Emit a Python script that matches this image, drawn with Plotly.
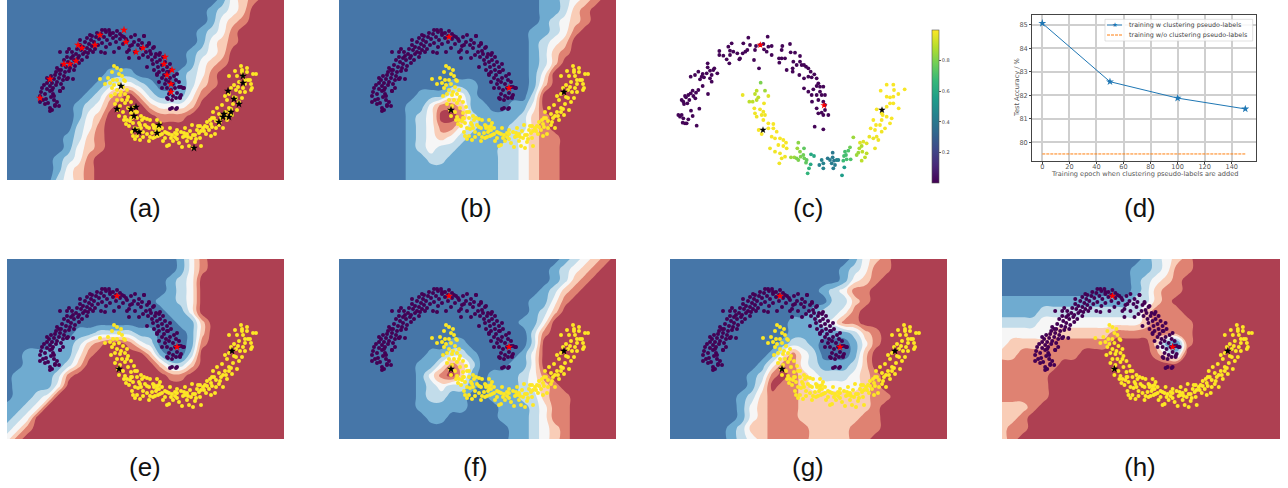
import plotly.graph_objects as go

W, H = 1288, 488
PW, PH = 277, 180

band_colors = ["#4676a8", "#6fabd0", "#c2dcea", "#f6f6f6", "#f9cdb7", "#df8272", "#ae4052"]

bands_a = [
 "0000 0000 0000 0000 0000 0134 5666",
 "0000 0000 0000 0000 0000 1234 6666",
 "0000 0000 0000 0000 0000 1345 6666",
 "0000 0000 0000 0000 0001 2356 6666",
 "0000 0000 0000 0000 0001 3456 6666",
 "0000 0000 0000 0000 0012 3466 6666",
 "0000 0000 0000 0000 0013 4566 6666",
 "0000 0000 0011 1000 0123 5666 6666",
 "0000 0000 0123 3210 0124 5666 6666",
 "0000 0000 1245 6421 1135 6666 6666",
 "0000 0001 2356 6643 3346 6666 6666",
 "0000 0001 3466 6665 5566 6666 6666",
 "0000 0002 3566 6666 6666 6666 6666",
 "0000 0012 4566 6666 6666 6666 6666",
 "0000 0013 4566 6666 6666 6666 6666",
 "0000 0123 5666 6666 6666 6666 6666",
 "0000 0134 5666 6666 6666 6666 6666",
 "0000 0234 5666 6666 6666 6666 6666",
]
bands_b = [
 "0000 0000 0000 0000 0000 1123 4566",
 "0000 0000 0000 0000 0000 1124 5666",
 "0000 0000 0000 0000 0000 1234 5666",
 "0000 0000 0000 0000 0001 1235 6666",
 "0000 0000 0000 0000 0001 2346 6666",
 "0000 0000 0000 0000 0001 2456 6666",
 "0000 0000 0000 0000 0001 2466 6666",
 "0000 0000 0000 0000 0001 3666 6666",
 "0000 0000 0001 1100 0001 4666 6666",
 "0000 0000 1113 3100 0002 6666 6666",
 "0000 0001 1355 4110 0113 6666 6666",
 "0000 0001 2366 5211 1124 5666 6666",
 "0000 0001 2355 3211 1224 5666 6666",
 "0000 0001 2343 2111 1234 5566 6666",
 "0000 0001 2322 1111 2234 5566 6666",
 "0000 0001 1221 1111 2234 5566 6666",
 "0000 0001 1111 1111 2234 5566 6666",
 "0000 0001 1111 1111 2234 5566 6666",
]
bands_e = [
 "0000 0000 0000 0000 0135 6666 6666",
 "0000 0000 0000 0000 0135 6666 6666",
 "0000 0000 0000 0000 1236 6666 6666",
 "0000 0000 0000 0000 1236 6666 6666",
 "0000 0000 0000 0001 1236 6666 6666",
 "0000 0000 0000 0000 1136 6666 6666",
 "0000 0000 0000 0000 0114 6666 6666",
 "0000 0001 1222 2110 0014 6666 6666",
 "0000 0112 4566 5320 0015 6666 6666",
 "0011 1113 5666 6641 0026 6666 6666",
 "0011 1124 6666 6664 2246 6666 6666",
 "0111 1256 6666 6666 5566 6666 6666",
 "0111 1366 6666 6666 6666 6666 6666",
 "0112 3666 6666 6666 6666 6666 6666",
 "1123 6666 6666 6666 6666 6666 6666",
 "1236 6666 6666 6666 6666 6666 6666",
 "2356 6666 6666 6666 6666 6666 6666",
 "3566 6666 6666 6666 6666 6666 6666",
]
bands_f = [
 "0000 0000 0000 0000 0000 0012 3456",
 "0000 0000 0000 0000 0000 0123 4566",
 "0000 0000 0000 0000 0000 0124 5666",
 "0000 0000 0000 0000 0000 1245 6666",
 "0000 0000 0000 0000 0001 1356 6666",
 "0000 0000 0000 0000 0001 2466 6666",
 "0000 0000 0000 0000 0011 3666 6666",
 "0000 0000 0000 0000 0002 5666 6666",
 "0000 0000 0001 1000 0002 6666 6666",
 "0000 0000 0112 2100 0013 6666 6666",
 "0000 0000 1135 4200 0113 6666 6666",
 "0000 0000 1356 4101 1123 5666 6666",
 "0000 0000 1232 2101 1123 4566 6666",
 "0000 0000 1221 1001 1122 4556 6666",
 "0000 0000 1111 1000 1112 3556 6666",
 "0000 0000 0110 0000 1112 3556 6666",
 "0000 0000 0000 0000 0112 3456 6666",
 "0000 0000 0000 0000 0112 3456 6666",
]
bands_g = [
 "0000 0000 0000 0000 0013 4566 6666",
 "0000 0000 0000 0000 0123 5566 6666",
 "0000 0000 0000 0000 0134 5666 6666",
 "0000 0000 0000 0001 2355 6666 6666",
 "0000 0000 0000 0000 2245 6666 6666",
 "0000 0000 0000 0012 2356 6666 6666",
 "0000 0000 0000 1112 3556 6666 6666",
 "0000 0000 0000 1111 1124 5666 6666",
 "0000 0000 0001 2210 0013 5666 6666",
 "0000 0000 0013 5320 0014 6666 6666",
 "0000 0000 0135 5321 1124 6666 6666",
 "0000 0000 1256 5432 2234 5666 6666",
 "0000 0000 1365 5433 3334 5666 6666",
 "0000 0001 2455 5444 4444 5566 6666",
 "0000 0001 3455 5444 4444 5666 6666",
 "0000 0001 3455 5444 4445 5666 6666",
 "0000 0012 4455 5544 4455 5666 6666",
 "0000 0012 3455 5544 4455 6666 6666",
]
bands_h = [
 "0000 0000 0000 0012 3456 6666 6666",
 "0000 0000 0000 0112 3556 6666 6666",
 "0000 0000 0000 0123 4566 6666 6666",
 "0000 0000 0000 0124 5566 6666 6666",
 "1111 1111 1111 1224 5666 6666 6666",
 "1111 2222 2222 2245 5566 6666 6666",
 "2222 3333 3333 3345 5556 6666 6666",
 "3333 3444 4445 5555 5556 6666 6666",
 "3444 4555 5556 6664 1056 6666 6666",
 "4455 5555 6666 6665 3266 6666 6666",
 "5555 5566 6666 6666 6666 6666 6666",
 "5555 5666 6666 6666 6666 6666 6666",
 "5555 5666 6666 6666 6666 6666 6666",
 "5555 5666 6666 6666 6666 6666 6666",
 "4445 6666 6666 6666 6666 6666 6666",
 "4456 6666 6666 6666 6666 6666 6666",
 "4556 6666 6666 6666 6666 6666 6666",
 "4566 6666 6666 6666 6666 6666 6666",
]

purple_points = [
 (33,96),(36,100),(34,92),(39,99),(41,103),(43,108),(48,106),(44,97),(38,94),(35,88),(37,85),(40,89),(43,91),(46,94),
 (50,102),(52,106),(40,83),(43,86),(46,88),(42,80),(45,83),(49,85),(53,91),(47,79),(50,82),(54,84),(44,76),(48,75),
 (52,78),(56,80),(49,72),(53,74),(57,76),(60,79),(50,68),(54,70),(58,72),(62,71),(66,79),(55,65),(59,67),(63,68),
 (67,70),(57,60),(61,62),(64,64),(68,66),(72,63),(60,57),(64,58),(67,60),(71,58),(75,60),(65,52),(69,54),(72,56),
 (76,54),(60,52),(70,49),(74,50),(78,52),(80,57),(73,45),(76,47),(80,48),(83,50),(78,42),(82,44),(85,46),(88,49),
 (80,38),(84,40),(87,42),(91,45),(94,52),(85,36),(89,37),(92,39),(95,43),(99,47),(90,33),(94,34),(97,37),(100,40),
 (103,44),(95,30),(99,32),(103,35),(106,38),(109,42),(102,30),(106,33),(109,36),(113,39),(116,44),(110,31),(113,34),
 (117,37),(120,41),(123,46),(115,36),(119,39),(124,37),(122,50),(127,42),(131,45),(128,52),(134,48),(137,36),(132,40),
 (135,43),(140,46),(143,51),(125,45),(139,52),(142,44),(146,48),(149,54),(136,55),(141,57),(145,60),(148,57),(152,55),
 (146,64),(150,62),(153,60),(156,57),(151,67),(155,65),(158,62),(147,70),(152,72),(156,70),(160,67),(163,64),(157,75),
 (161,72),(164,70),(150,74),(155,78),(159,80),(163,78),(167,76),(170,74),(158,84),(162,82),(166,84),(169,80),(172,82),
 (160,88),(164,90),(168,88),(172,87),(176,88),(162,94),(166,96),(170,93),(174,95),(165,100),(169,98),(173,98),(161,99),
 (165,108),(170,108),(160,72),(144,54),(47,96),(61,78),(33,102),(45,110),
 (43,111),(48,105),(45,90),(53,91),(60,79),(53,52),(62,49),(81,53),(98,53),(107,52),(120,52),(137,36),(128,35),(103,33),
 (98,30),(83,35),(73,40),(140,67),(150,75),(160,98),(169,109),(163,109),(177,88),(173,97),(174,87),(153,53),(142,43),
 (147,47),(132,58),(122,58),(40,78),(38,104),(56,88),(52,70),(66,56),(86,52),(112,48),(152,82),(155,88),(47,100),
]
yellow_points = [
 (110,68),(93,79),(112,74),(105,72),(101,78),(110,80),(115,76),(118,81),(103,83),(107,85),(112,84),(98,84),(105,88),
 (110,90),(116,87),(120,90),(108,94),(113,95),(118,94),(104,96),(110,100),(115,100),(121,97),(108,104),(113,106),
 (118,103),(124,102),(111,110),(116,112),(121,108),(127,107),(112,116),(118,117),(124,113),(130,112),(119,124),
 (125,118),(130,118),(134,116),(122,126),(126,123),(132,123),(137,118),(120,120),(128,128),(134,128),(125,132),
 (130,136),(136,132),(128,139),(133,140),(140,134),(143,120),(150,120),(147,128),(153,123),(145,133),(150,130),
 (155,128),(148,137),(153,135),(158,132),(158,138),(163,128),(165,135),(162,145),(160,146),(168,133),(170,139),
 (174,132),(172,143),(176,137),(180,134),(180,141),(184,138),(186,148),(182,146),(190,130),(188,135),(192,133),
 (196,128),(193,138),(198,126),(202,130),(194,146),(200,122),(205,127),(208,134),(207,118),(212,125),(216,128),
 (212,114),(218,112),(220,120),(215,105),(222,108),(225,115),(213,122),(220,100),(226,104),(230,110),(222,94),
 (227,97),(232,102),(235,98),(224,88),(229,90),(233,92),(236,88),(244,90),(227,85),(232,82),(238,84),(245,88),
 (222,76),(230,76),(236,76),(241,80),(235,72),(240,72),(246,74),(234,66),(240,68),(249,74),(235,70),(243,80),
 (128,112),(123,121),(131,129),(138,125),(142,128),(146,138),(152,130),(160,133),(166,141),(170,130),(178,128),
 (183,131),(188,142),(191,126),(199,134),(203,120),(206,112),(210,108),(216,116),(209,128),(117,120),(136,137),
 (142,141),(150,127),(156,141),(164,138),(175,147),(185,125),(204,136),(218,96),(238,92),(106,80),(114,92),(120,100),
 (114,70),(107,66),(117,80),(124,118),(126,136),(133,125),(135,120),(140,119),(146,125),(152,126),(149,132),(155,134),
 (151,136),(162,134),(168,137),(178,136),(181,137),(186,135),(189,139),(194,131),(197,131),(200,127),(204,124),
 (209,121),(214,118),(219,116),(222,112),(224,109),(229,98),(231,87),(238,80),(244,84),(228,71),(140,127),(143,137),
 (147,126),(170,134),(177,133),(193,126),(205,118),
]
red_stars_a_x = [33,43,57,63,69,71,75,88,93,117,119,129,136,158,157,165,160,164,164]
red_stars_a_y = [98,79,64,64,61,45,48,45,35,30,42,52,48,57,64,70,75,84,92]
black_stars_a_x = [114,110,124,129,127,128,132,152,150,187,212,216,217,222,224,221,227,232,236,236]
black_stars_a_y = [86,109,109,107,116,130,132,125,133,148,122,117,114,117,112,91,99,104,83,76]
red_stars_x = [110,170]
red_stars_y = [37,88]
black_stars_x = [112,225]
black_stars_y = [110,92]

c_purple_points = [
 (55,285),(60,290),(65,285),(70,295),(75,310),(68,308),(80,310),(85,298),(98,288),(110,317),(93,272),(118,266),(72,252),
 (65,240),(70,245),(78,232),(85,225),(75,228),(92,220),(100,228),(98,212),(108,218),(115,210),(128,198),(144,222),
 (106,235),(82,250),(88,240),(105,165),(92,170),(115,155),(125,170),(120,178),(132,172),(128,162),(140,160),(143,130),
 (143,142),(150,152),(155,165),(155,185),(150,175),(160,150),(163,145),(172,160),(178,93),(178,105),(190,107),(200,118),
 (208,130),(210,105),(215,70),(205,80),(210,92),(220,95),(232,100),(238,118),(248,100),(240,115),(250,70),(265,53),
 (270,75),(262,90),(256,95),(282,120),(285,90),(297,145),(288,78),(300,75),(310,72),(323,50),(312,88),(320,95),(335,78),
 (335,105),(325,80),(367,78),(365,90),(390,72),(392,97),(405,98),(420,108),(357,115),(365,115),(358,128),(375,115),
 (400,125),(420,125),(380,150),(398,145),(410,135),(398,155),(425,135),(432,135),(438,140),(418,165),(432,175),(445,170),
 (452,155),(455,172),(445,145),(470,175),(475,190),(463,163),(470,198),(480,200),(432,205),(445,215),(460,208),(480,215),
 (490,200),(455,225),(456,245),(470,225),(485,225),(495,225),(475,240),(490,245),(470,265),(475,280),(485,278),(495,270),
 (505,285),(490,285),(495,255),(464,320),(490,328),
]
c_purple_value = 0.01
c_mixed_points = [
 (248,225,.97),(302,188,.8),(290,212,.9),(285,222,.9),(295,232,.9),(315,212,.85),(325,228,.95),(278,245,.9),(268,245,.9),
 (290,240,.9),(312,250,.98),(283,265,.98),(300,268,.98),(310,275,.98),(285,280,.98),(290,290,.98),(305,285,.98),(315,285,.98),
 (310,300,.99),(325,310,.99),(340,312,.99),(325,325,.99),(296,330,.99),(305,342,.99),(340,325,.99),(350,335,.99),(335,350,.99),
 (345,355,.99),(360,355,.99),(370,360,.99),(378,368,.99),(355,375,.99),(370,378,.99),(330,385,.98),(345,395,.98),(380,385,.98),
 (360,400,.98),(375,410,.98),(365,415,.98),(358,430,.98),(393,412,.85),(403,412,.85),(415,368,.82),(412,385,.85),(420,395,.82),
 (410,415,.8),(415,420,.8),(422,410,.8),(432,385,.75),(430,405,.78),(440,420,.75),(438,428,.75),(433,415,.78),(453,403,.6),
 (462,408,.6),(452,433,.6),(447,445,.65),(443,460,.65),(478,435,.45),(485,420,.45),(490,430,.45),(490,445,.45),(503,415,.4),
 (510,420,.42),(518,398,.4),(518,412,.42),(522,422,.4),(530,420,.45),(535,420,.45),(515,430,.42),(525,435,.42),(520,445,.42),
 (553,442,.55),(546,466,.55),(555,395,.7),(558,405,.7),(565,392,.72),(570,382,.78),(552,408,.7),(550,422,.68),(572,418,.72),
 (560,418,.7),(580,352,.85),(590,405,.85),(598,385,.88),(605,378,.88),(595,398,.85),(607,395,.9),(620,400,.9),(605,422,.9),
 (615,412,.9),(600,368,.95),(610,365,.95),(620,370,.95),(628,350,.97),(645,385,.97),(640,355,.97),(650,350,.98),(655,360,.98),
 (665,335,.98),(632,325,.99),(645,330,.99),(648,315,.99),(660,315,.99),(675,325,.99),(640,300,.99),(665,300,.99),(690,310,.99),
 (668,285,.99),(680,290,.99),(695,295,.99),(650,268,.99),(665,280,.99),(690,250,.99),(700,250,.99),(680,260,.99),(716,265,.99),
 (680,230,.99),(690,232,.99),(700,230,.99),(662,212,.99),(702,210,.99),(715,222,.99),(734,208,.99),(680,194,.99),(700,194,.99),
]
c_red_x = [301,492]
c_red_y = [75,256]
c_black_x = [309,666]
c_black_y = [330,270]
cbar_ticks = [0.2,0.4,0.6,0.8]

d_epochs = [0,50,100,150]
d_with = [85.07,82.58,81.88,81.42]
d_without = [79.5,79.5,79.5,79.5]
d_names = ["training w clustering pseudo-labels","training w/o clustering pseudo-labels"]
d_xlabel = "Training epoch when clustering pseudo-labels are added"
d_ylabel = "Test Accuracy / %"

panel_labels = ["(a)","(b)","(c)","(d)","(e)","(f)","(g)","(h)"]
label_x = [145,476,808,1140,145,476,808,1140]
label_y = [208,208,208,208,467,467,467,467]


def parse(rows):
    out = []
    for r in rows:
        s = r.replace(" ", "")
        s = s.ljust(28, s[-1])[:28]
        out.append([int(c) for c in s])
    return out


grid_x = [i * PW / 27 for i in range(28)]
grid_y = [j * PH / 17 for j in range(18)]
scale = [[k / 6, c] for k, c in enumerate(band_colors)]

panels = [
    ("a", bands_a, 7, 0, 277, red_stars_a_x, red_stars_a_y, black_stars_a_x, black_stars_a_y),
    ("b", bands_b, 339, 0, 277, red_stars_x, red_stars_y, black_stars_x, black_stars_y),
    ("e", bands_e, 7, 259, 277, red_stars_x, red_stars_y, black_stars_x, black_stars_y),
    ("f", bands_f, 339, 259, 277, red_stars_x, red_stars_y, black_stars_x, black_stars_y),
    ("g", bands_g, 670, 259, 277, red_stars_x, red_stars_y, black_stars_x, black_stars_y),
    ("h", bands_h, 1002, 259, 278, red_stars_x, red_stars_y, black_stars_x, black_stars_y),
]

fig = go.Figure()
layout = {}


def add_axes(n, x0, y0, w, h, xr, yr):
    layout[f"xaxis{n}"] = dict(domain=[x0 / W, (x0 + w) / W], range=xr, visible=False, anchor=f"y{n}")
    layout[f"yaxis{n}"] = dict(domain=[1 - (y0 + h) / H, 1 - y0 / H], range=yr, visible=False, anchor=f"x{n}")


n = 0
for name, rows, px, py, pw, rx, ry, bx, by in panels:
    n += 1
    add_axes(n, px, py, pw, PH, [0, PW], [PH, 0])
    ax = dict(xaxis=f"x{n}", yaxis=f"y{n}", showlegend=False, hoverinfo="skip")
    fig.add_trace(go.Contour(x=grid_x, y=grid_y, z=parse(rows), zmin=0, zmax=6, colorscale=scale, showscale=False,
                             autocontour=False, contours=dict(start=0.5, end=5.5, size=1, coloring="fill"),
                             line=dict(width=0, smoothing=1.3), **ax))
    fig.add_trace(go.Scatter(x=[p[0] for p in purple_points], y=[p[1] for p in purple_points], mode="markers",
                             marker=dict(color="#440154", size=4), **ax))
    fig.add_trace(go.Scatter(x=[p[0] for p in yellow_points], y=[p[1] for p in yellow_points], mode="markers",
                             marker=dict(color="#fde725", size=4), **ax))
    fig.add_trace(go.Scatter(x=rx, y=ry, mode="markers", marker=dict(color="#ff0000", size=6, symbol="star", line=dict(width=0)), **ax))
    fig.add_trace(go.Scatter(x=bx, y=by, mode="markers", marker=dict(color="#000000", size=6, symbol="star", line=dict(width=0)), **ax))

# panel (c)
n += 1
add_axes(n, 660, 20, 260, 170, [0, 780], [510, 0])
ax = dict(xaxis=f"x{n}", yaxis=f"y{n}", showlegend=False, hoverinfo="skip")
cx = [p[0] for p in c_purple_points] + [p[0] for p in c_mixed_points]
cy = [p[1] for p in c_purple_points] + [p[1] for p in c_mixed_points]
cv = [c_purple_value] * len(c_purple_points) + [p[2] for p in c_mixed_points]
fig.add_trace(go.Scatter(x=cx, y=cy, mode="markers",
                         marker=dict(color=cv, colorscale="Viridis", cmin=0, cmax=1, size=3.8, showscale=True,
                                     colorbar=dict(x=932 / W, xanchor="left", y=1 - 30 / H, yanchor="top",
                                                   len=153 / H, lenmode="fraction", thickness=7, thicknessmode="pixels",
                                                   tickvals=cbar_ticks, ticktext=[str(t) for t in cbar_ticks],
                                                   ticks="outside", ticklen=2, tickwidth=0.5, tickcolor="#555",
                                                   tickfont=dict(size=5, family="DejaVu Sans", color="#444"),
                                                   outlinewidth=0.6, outlinecolor="#555", xpad=0, ypad=0)), **ax))
fig.add_trace(go.Scatter(x=c_red_x, y=c_red_y, mode="markers", marker=dict(color="#ff0000", size=5.5, symbol="star"), **ax))
fig.add_trace(go.Scatter(x=c_black_x, y=c_black_y, mode="markers", marker=dict(color="#000000", size=5.5, symbol="star"), **ax))

# panel (d)
n += 1
dfont = dict(family="DejaVu Sans", size=6.6, color="#555")
layout[f"xaxis{n}"] = dict(domain=[1032.3 / W, 1255.7 / W], range=[-7.4, 157.7], anchor=f"y{n}",
                           tickvals=list(range(0, 141, 20)), showgrid=True, gridcolor="#cfcfcf", gridwidth=1.6,
                           showline=True, mirror=True, linecolor="#444", linewidth=1.4, ticks="outside", ticklen=2,
                           tickwidth=0.6, tickcolor="#444", tickfont=dfont, zeroline=False, ticklabelstandoff=-3)
layout[f"yaxis{n}"] = dict(domain=[1 - 161 / H, 1 - 15.3 / H], range=[79.2, 85.41], anchor=f"x{n}",
                           tickvals=[80, 81, 82, 83, 84, 85], showgrid=True, gridcolor="#cfcfcf", gridwidth=1.6,
                           showline=True, mirror=True, linecolor="#444", linewidth=1.4, ticks="outside", ticklen=2,
                           tickwidth=0.6, tickcolor="#444", tickfont=dfont, zeroline=False)
fig.add_trace(go.Scatter(x=d_epochs, y=d_with, mode="lines+markers", name=d_names[0], xaxis=f"x{n}", yaxis=f"y{n}",
                         line=dict(color="#1f77b4", width=1), marker=dict(symbol="star", size=6, color="#1f77b4"),
                         hoverinfo="skip", showlegend=False))
fig.add_trace(go.Scatter(x=d_epochs, y=d_without, mode="lines", name=d_names[1], xaxis=f"x{n}", yaxis=f"y{n}",
                         line=dict(color="#ff7f0e", width=1, dash="3px,1px"), hoverinfo="skip", showlegend=False))


def paper(x, y):
    return x / W, 1 - y / H


annotations = []
for t, x, y in zip(panel_labels, label_x, label_y):
    px_, py_ = paper(x, y)
    annotations.append(dict(text=t, x=px_, y=py_, xref="paper", yref="paper", showarrow=False,
                            font=dict(family="Liberation Sans", size=26, color="#111"),
                            xanchor="center", yanchor="middle"))

# axis titles and the compact legend of panel (d)
for t, x, y, ang in [(d_xlabel, 1144, 174, 0), (d_ylabel, 1017, 88, -90)]:
    px_, py_ = paper(x, y)
    annotations.append(dict(text=t, x=px_, y=py_, xref="paper", yref="paper", showarrow=False, textangle=ang,
                            font=dfont, xanchor="center", yanchor="middle"))
lgfont = dict(family="DejaVu Sans", size=6.4, color="#444")
for t, y in zip(d_names, [25, 35]):
    px_, py_ = paper(1126.7, y)
    annotations.append(dict(text=t, x=px_, y=py_, xref="paper", yref="paper", showarrow=False,
                            font=lgfont, xanchor="left", yanchor="middle"))
px_, py_ = paper(1114.5, 24.6)
annotations.append(dict(text="★", x=px_, y=py_, xref="paper", yref="paper", showarrow=False,
                        font=dict(family="DejaVu Sans", size=6.5, color="#1f77b4"), xanchor="center", yanchor="middle"))

bx0, by1 = paper(1105, 41)
bx1, by0 = paper(1252.7, 19.3)
lx0, ly0 = paper(1107, 25)
lx1, ly1 = paper(1122, 35)
shapes = [
    dict(type="rect", xref="paper", yref="paper", x0=bx0, x1=bx1, y0=by1, y1=by0,
         fillcolor="rgba(255,255,255,0.85)", line=dict(color="#cccccc", width=0.6)),
    dict(type="line", xref="paper", yref="paper", x0=lx0, x1=lx1, y0=ly0, y1=ly0, line=dict(color="#1f77b4", width=1)),
    dict(type="line", xref="paper", yref="paper", x0=lx0, x1=lx1, y0=ly1, y1=ly1,
         line=dict(color="#ff7f0e", width=1, dash="3px,1px")),
]

fig.update_layout(width=W, height=H, margin=dict(l=0, r=0, t=0, b=0), paper_bgcolor="white", plot_bgcolor="white",
                  annotations=annotations, shapes=shapes, showlegend=False, **layout)

fig.write_html("out.html", config=dict(displayModeBar=False),
               post_script="document.body.style.margin='0';document.documentElement.style.overflow='hidden';")
